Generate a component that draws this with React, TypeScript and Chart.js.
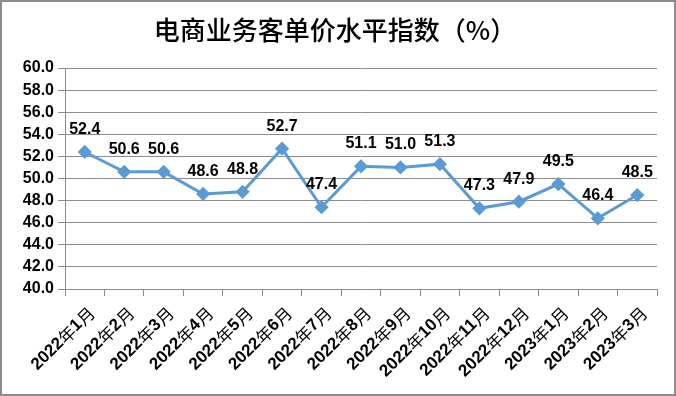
import React, { useEffect, useRef } from "react";
import { Chart, registerables } from "chart.js";

Chart.register(...registerables);

const TITLE = "电商业务客单价水平指数（%）";
const categories = [
  "2022年1月", "2022年2月", "2022年3月", "2022年4月", "2022年5月", "2022年6月",
  "2022年7月", "2022年8月", "2022年9月", "2022年10月", "2022年11月", "2022年12月",
  "2023年1月", "2023年2月", "2023年3月",
];
const values = [52.4, 50.6, 50.6, 48.6, 48.8, 52.7, 47.4, 51.1, 51.0, 51.3, 47.3, 47.9, 49.5, 46.4, 48.5];
const yMin = 40;
const yMax = 60;
const yStep = 2;

const LINE_COLOR = "#5B9BD5";
const GRID = "#8C8C8C";
const FONT = "'Liberation Sans', Arial, 'Noto Sans CJK SC', sans-serif";
const LATIN_FONT = "bold 17px 'Liberation Sans', Arial, sans-serif";
const CJK_FONT = "400 17px 'Noto Sans CJK SC', sans-serif";

function splitRuns(s: string) {
  const runs: { t: string; cjk: boolean }[] = [];
  for (const ch of s) {
    const cjk = /[\u3000-\u9fff\uff00-\uffef]/.test(ch);
    const last = runs[runs.length - 1];
    if (last && last.cjk === cjk) last.t += ch;
    else runs.push({ t: ch, cjk });
  }
  return runs;
}

const decor = {
  id: "decor",
  afterDraw(chart: any) {
    const ctx = chart.ctx;
    const xs = chart.scales.x;
    const area = chart.chartArea;
    ctx.save();
    // outer border
    ctx.strokeStyle = "#8C8C8C";
    ctx.lineWidth = 2;
    ctx.strokeRect(1, 1, chart.width - 2, chart.height - 2);
    // title
    ctx.fillStyle = "#000";
    ctx.font = "500 26px 'Noto Sans CJK SC', sans-serif";
    ctx.textAlign = "center";
    ctx.textBaseline = "middle";
    ctx.fillText(TITLE, 335, 30);
    // x category labels (rotated), digits bold, CJK regular
    ctx.textAlign = "left";
    ctx.textBaseline = "middle";
    categories.forEach((c, i) => {
      const runs = splitRuns(c);
      let total = 0;
      const widths = runs.map((r) => {
        ctx.font = r.cjk ? CJK_FONT : LATIN_FONT;
        const w = ctx.measureText(r.t).width;
        total += w;
        return w;
      });
      const x = xs.getPixelForValue(i) + 7;
      const y = area.bottom + 21;
      ctx.save();
      ctx.translate(x, y);
      ctx.rotate(-Math.PI / 4);
      let pos = -total;
      runs.forEach((r, k) => {
        ctx.font = r.cjk ? CJK_FONT : LATIN_FONT;
        ctx.fillText(r.t, pos, 0);
        pos += widths[k];
      });
      ctx.restore();
    });
    // data labels
    const meta = chart.getDatasetMeta(0);
    ctx.font = "bold 16px " + FONT;
    ctx.textAlign = "center";
    ctx.textBaseline = "alphabetic";
    meta.data.forEach((pt: any, i: number) => {
      ctx.fillText(values[i].toFixed(1), pt.x, pt.y - 18);
    });
    ctx.restore();
  },
};

export default function App() {
  const ref = useRef<HTMLCanvasElement>(null);
  useEffect(() => {
    document.body.style.margin = "0";
    const chart = new Chart(ref.current!, {
      type: "line",
      data: {
        labels: categories,
        datasets: [
          {
            data: values,
            borderColor: LINE_COLOR,
            backgroundColor: LINE_COLOR,
            borderWidth: 3,
            pointStyle: "rectRot",
            pointRadius: 5,
            pointBackgroundColor: LINE_COLOR,
            pointBorderColor: LINE_COLOR,
            tension: 0,
          },
        ],
      },
      plugins: [decor],
      options: {
        animation: false,
        responsive: false,
        layout: { padding: { top: 68, right: 19, left: 0, bottom: 0 } },
        plugins: { legend: { display: false }, tooltip: { enabled: false }, title: { display: false } },
        scales: {
          x: {
            offset: true,
            grid: { display: true, offset: true, drawOnChartArea: false, color: GRID, tickLength: 7, lineWidth: 1 },
            border: { color: GRID, width: 1 },
            ticks: { display: false, autoSkip: false },
            afterFit(scale: any) {
              scale.height = 107;
            },
          },
          y: {
            min: yMin,
            max: yMax,
            grid: { color: GRID, tickLength: 7, lineWidth: 1 },
            border: { color: GRID, width: 1 },
            ticks: {
              stepSize: yStep,
              autoSkip: false,
              color: "#000",
              padding: 4,
              font: { family: FONT, size: 16, weight: "bold" },
              callback: (v: any) => Number(v).toFixed(1),
            },
            afterFit(scale: any) {
              scale.width = 65;
            },
          },
        },
      },
    });
    return () => chart.destroy();
  }, []);
  return (
    <div style={{ position: "absolute", left: 0, top: 0, width: 676, height: 396, background: "#fff" }}>
      <canvas ref={ref} width={676} height={396} style={{ width: 676, height: 396 }} />
    </div>
  );
}
